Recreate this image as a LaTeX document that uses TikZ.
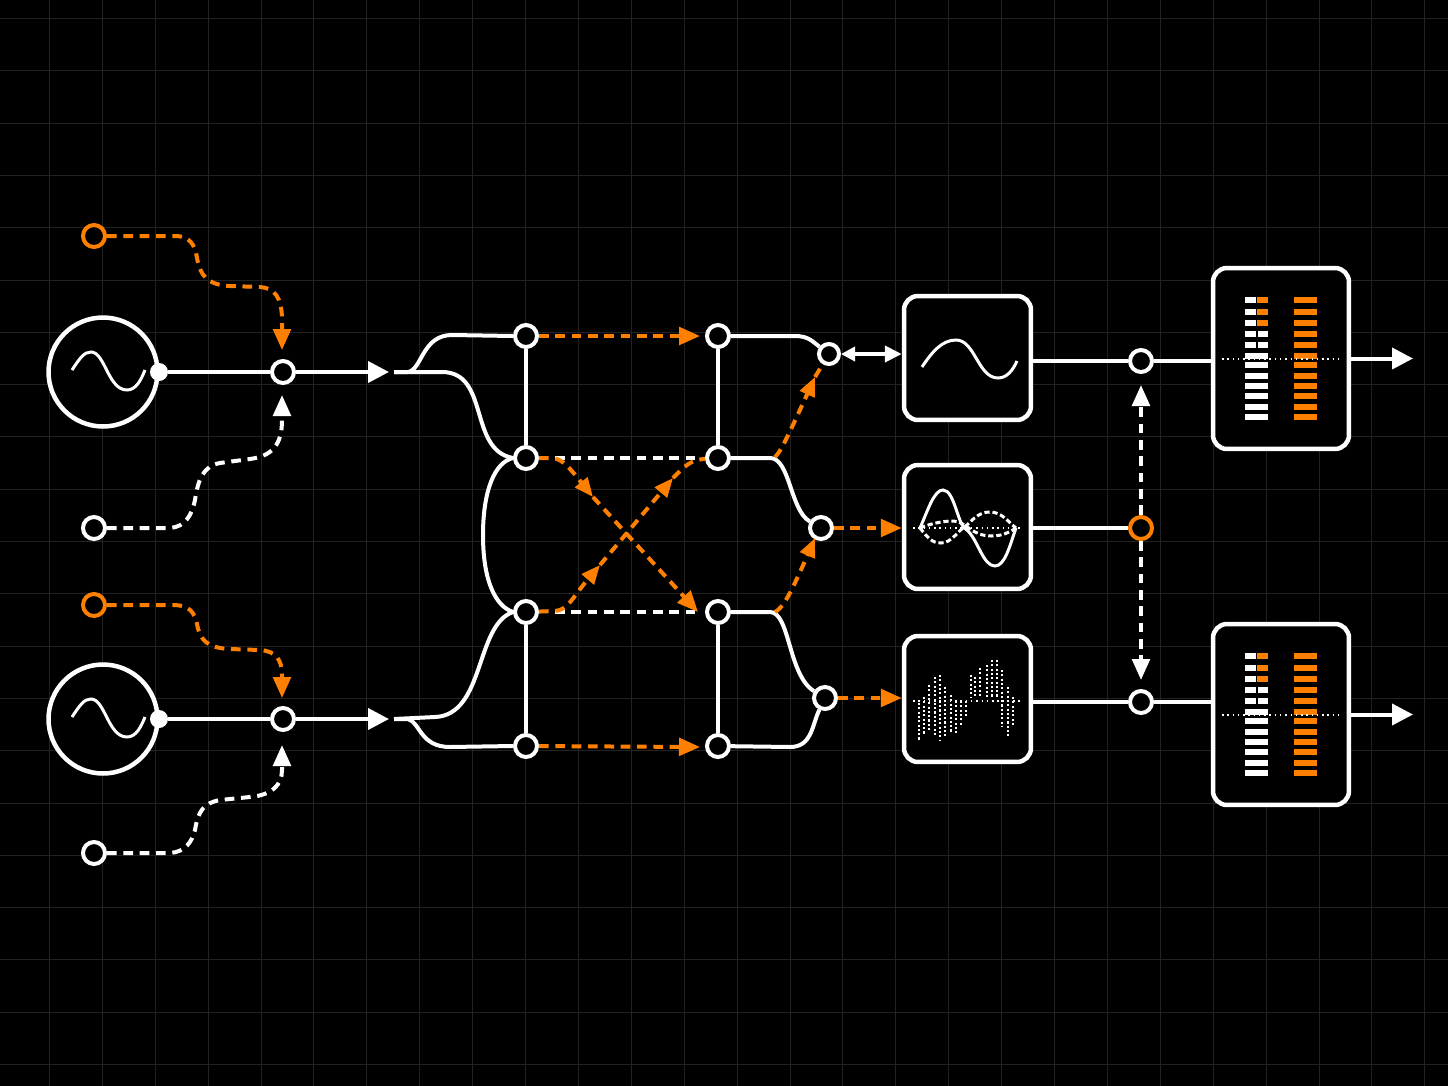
\documentclass[tikz,border=0pt]{standalone}
\usetikzlibrary{arrows.meta}
\definecolor{signal}{HTML}{FF8000}
\definecolor{gridline}{HTML}{222222}
\tikzset{
    wire/.style={white, line width=0.08cm},
    orangedash/.style={signal, line width=0.08cm, dash pattern=on 5.5pt off 3.8pt},
    whitedash/.style={white, line width=0.08cm, dash pattern=on 5.5pt off 3.8pt},
    thinwave/.style={white, line width=0.06cm},
    dotline/.style={white, line width=0.03cm, dash pattern=on 0.85pt off 2.15pt},
    tip/.style={-{Triangle[length=0.42cm,width=0.35cm]}},
    bigtip/.style={-{Triangle[length=0.42cm,width=0.42cm]}},
    smalltip/.style={-{Triangle[length=0.38cm,width=0.31cm]}},
    port/.style={circle, draw=white, fill=black, line width=0.08cm, minimum size=0.44cm, inner sep=0pt},
    orangeport/.style={port, draw=signal},
    panel/.style={rectangle, draw=white, fill=black, line width=0.09cm, rounded corners=0.28cm, inner sep=0pt},
}
\begin{document}
\begin{tikzpicture}[x=0.02cm, y=-0.02cm]
    \fill [black] (0,0) rectangle (1448,1086);
    \useasboundingbox (0,0) rectangle (1448,1086);
    % grid
    \foreach \x in {0,...,26} {
        \draw [gridline, line width=0.028cm] ({round(49+52.9*\x)+0.5},0) -- ({round(49+52.9*\x)+0.5},1086);
    }
    \foreach \y in {0,...,20} {
        \draw [gridline, line width=0.028cm] (0,{round(18+52.3*\y)+0.5}) -- (1448,{round(18+52.3*\y)+0.5});
    }

    % sources
    \foreach \n/\y in {1/372,2/719} {
        \node [circle, draw=white, fill=black, line width=0.09cm, minimum size=2.18cm, inner sep=0pt] (src\n) at (103,\y) {};
        \node [circle, fill=white, minimum size=0.36cm, inner sep=0pt] (dot\n) at (159,\y) {};
        \node [port] (j\n) at (283,\y) {};
        \draw [thinwave] (72,\y-2) .. controls (80,\y-14) and (84,\y-20) .. (91,\y-20)
            .. controls (105,\y-20) and (108,\y+18) .. (127,\y+18)
            .. controls (136,\y+18) and (141,\y+8) .. (145,\y-2);
        \draw [wire] (dot\n) -- (j\n);
        \coordinate (out\n) at (389,\y);
        \draw [wire, bigtip] (j\n) -- (out\n);
    }
    \node [orangeport] (o1) at (94,236) {};
    \node [port] (w1) at (94,528) {};
    \node [orangeport] (o2) at (94,605) {};
    \node [port] (w2) at (94,853) {};

    % modulation inputs
    \draw [orangedash, tip] (o1) -- (175,236) .. controls (190,236) and (195,245) .. (197,258)
        .. controls (200,275) and (207,285) .. (230,286) -- (260,287)
        .. controls (275,288) and (282,298) .. (282,320) -- (282,350);
    \draw [whitedash, tip] (w1) -- (170,528) .. controls (185,527) and (192,515) .. (195,500)
        .. controls (198,480) and (203,466) .. (220,463) -- (250,459)
        .. controls (272,456) and (282,445) .. (282,420) -- (282,395);
    \draw [orangedash, tip] (o2) -- (172,605) .. controls (190,605) and (194,612) .. (197,624)
        .. controls (200,640) and (207,648) .. (230,649) -- (260,650)
        .. controls (276,651) and (282,660) .. (282,675) -- (282,698);
    \draw [whitedash, tip] (w2) -- (170,853) .. controls (185,852) and (192,842) .. (195,830)
        .. controls (198,812) and (203,803) .. (220,800) -- (250,797)
        .. controls (272,795) and (282,785) .. (282,770) -- (282,745);

    % matrix nodes
    \foreach \n/\y in {1/336,2/458,3/612,4/746} {
        \node [port] (a\n) at (526,\y) {};
        \node [port] (b\n) at (718,\y) {};
    }
    \node [port, minimum size=0.4cm] (c1) at (829,354) {};
    \node [port] (c2) at (821,528) {};
    \node [port] (c3) at (825,698) {};

    \foreach \n in {a,b} {
        \draw [wire] (\n1) -- (\n2);
        \draw [wire] (\n3) -- (\n4);
    }

    % splitters
    \coordinate (in1) at (394,372);
    \coordinate (in2) at (394,719);
    \draw [wire] (in1) -- (408,372) .. controls (422,370) and (422,335) .. (452,335) -- (a1.west);
    \draw [wire] (in1) -- (442,372) .. controls (490,372) and (468,450) .. (a2.west);
    \draw [wire] (a2.west) .. controls (495,462) and (483,490) .. (483,535)
        .. controls (483,580) and (495,606) .. (a3.west);
    \draw [wire] (in2) -- (435,717) .. controls (485,715) and (475,625) .. (a3.west);
    \draw [wire] (in2) -- (408,719) .. controls (420,722) and (420,747) .. (450,747) -- (a4.west);

    % cross
    \coordinate (m1) at (593,497);
    \coordinate (m2) at (600,565);
    \coordinate (m3) at (673,478);
    \draw [whitedash] (555,458) -- (697,458);
    \draw [whitedash] (555,612) -- (697,612);
    \draw [orangedash, tip] (a1) -- (700,336);
    \draw [orangedash, tip] (a4) -- (700,747);
    \draw [orangedash, smalltip] (a2) -- (550,458) .. controls (560,458) and (565,462) .. (m1);
    \draw [orangedash, tip] (m1) -- (698,612);
    \draw [orangedash, smalltip] (a3) -- (555,611) .. controls (568,610) and (572,598) .. (m2);
    \draw [orangedash, smalltip] (m2) -- (m3);
    \draw [orangedash] (m3) .. controls (685,466) and (690,460) .. (b2);

    % outputs of the matrix
    \draw [wire] (b1) -- (795,336) .. controls (808,336) and (812,341) .. (c1);
    \draw [wire] (b2) -- (770,458) .. controls (790,458) and (790,510) .. (c2);
    \draw [wire] (b3) -- (770,612) .. controls (790,612) and (788,675) .. (c3);
    \draw [wire] (b4) -- (790,747) .. controls (812,747) and (812,725) .. (c3);
    \draw [orangedash, smalltip] (775,457) .. controls (780,452) and (784,445) .. (815,377);
    \draw [orangedash] (815,377) -- (c1);
    \draw [orangedash, smalltip] (775,612) .. controls (782,608) and (788,600) .. (815,538);

    % filter panels
    \node [panel, minimum width=2.54cm, minimum height=2.48cm] (box1) at (967.5,358) {};
    \node [panel, minimum width=2.54cm, minimum height=2.48cm] (box2) at (967.5,527) {};
    \node [panel, minimum width=2.54cm, minimum height=2.52cm] (box3) at (967.5,699) {};
    \node [panel, minimum width=2.72cm, minimum height=3.62cm] (box4) at (1281,358.5) {};
    \node [panel, minimum width=2.72cm, minimum height=3.62cm] (box5) at (1281,714.5) {};

    \draw [wire, {Triangle[length=0.28cm,width=0.28cm]}-{Triangle[length=0.34cm,width=0.32cm]}] (c1) -- (box1.west |- c1);
    \draw [orangedash, tip] (c2) -- (box2.west |- c2);
    \draw [orangedash, tip] (c3) -- (box3.west |- c3);

    % clean sine
    \draw [thinwave] (922,367) .. controls (932,352) and (942,340) .. (956,340)
        .. controls (975,340) and (978,378) .. (998,378)
        .. controls (1007,378) and (1013,370) .. (1017,361);
    % separated waves
    \draw [dotline] (913,528) -- (1022,528);
    \draw [thinwave] (920,528) .. controls (928,510) and (934,490) .. (943,490)
        .. controls (955,490) and (958,528) .. (967,530)
        .. controls (978,540) and (983,566) .. (995,566)
        .. controls (1005,566) and (1010,545) .. (1016,528);
    \draw [thinwave, dash pattern=on 3pt off 1.6pt] (920,528) .. controls (928,538) and (932,543) .. (941,543)
        .. controls (952,543) and (958,530) .. (967,525)
        .. controls (974,518) and (980,512) .. (990,512)
        .. controls (1002,512) and (1008,522) .. (1016,528);
    \draw [thinwave, dash pattern=on 3pt off 1.6pt] (920,528) .. controls (932,523) and (944,521) .. (953,521)
        .. controls (960,521) and (964,525) .. (970,529)
        .. controls (976,533) and (982,536) .. (992,536)
        .. controls (1002,536) and (1010,532) .. (1016,528);
    % sampled wave
    \draw [dotline] (913,701) -- (1022,701);
    \foreach \x/\t/\b in {919/703/740,924/697/735,929/685/732,935/677/737,940/675/740,945/687/738,951/695/733,956/701/733,961/701/725,966/701/717,971/675/698,975/677/698,980/668/698,987/665/698,992/660/698,997/660/698,1002/670/727,1008/687/737,1013/697/727} {
        \draw [white, line width=0.045cm, dash pattern=on 1.2pt off 1.25pt] (\x,\t) -- (\x,\b);
    }

    % level meters
    \foreach \dy in {0,356} {
        \foreach \y in {300,312,323} {
            \fill [white] (1245,\y+\dy-3) rectangle (1256,\y+\dy+3);
            \fill [signal] (1257,\y+\dy-3) rectangle (1268,\y+\dy+3);
        }
        \foreach \y in {334,345} {
            \fill [white] (1245,\y+\dy-3) rectangle (1256,\y+\dy+3);
            \fill [white] (1258,\y+\dy-3) rectangle (1268,\y+\dy+3);
        }
        \foreach \y in {356,365,376,386,396,407,417} {
            \fill [white] (1245,\y+\dy-3) rectangle (1268,\y+\dy+3);
        }
        \foreach \y in {300,312,323,334,345,356,365,376,386,396,407,417} {
            \fill [signal] (1294,\y+\dy-3) rectangle (1317,\y+\dy+3);
        }
        \draw [dotline] (1222,359+\dy) -- (1338,359+\dy);
    }

    % right column
    \node [port] (d1) at (1141,361) {};
    \node [orangeport] (d2) at (1141,528) {};
    \node [port] (d3) at (1141,702) {};
    \draw [wire] (d1 -| box1.east) -- (d1);
    \draw [wire] (d1) -- (d1 -| box4.west);
    \draw [wire] (box2.east |- d2) -- (d2);
    \draw [wire] (d3 -| box3.east) -- (d3);
    \draw [wire] (d3) -- (d3 -| box5.west);
    \coordinate (e1) at (1141,385);
    \coordinate (e3) at (1141,680);
    \draw [whitedash, tip] (d2) -- (e1);
    \draw [whitedash, tip] (d2) -- (e3);
    \coordinate (end1) at (1413,358.5);
    \coordinate (end2) at (1413,714.5);
    \draw [wire, bigtip] (box4) ++(68,0) -- (end1);
    \draw [wire, bigtip] (box5) ++(68,0) -- (end2);
\end{tikzpicture}
\end{document}
